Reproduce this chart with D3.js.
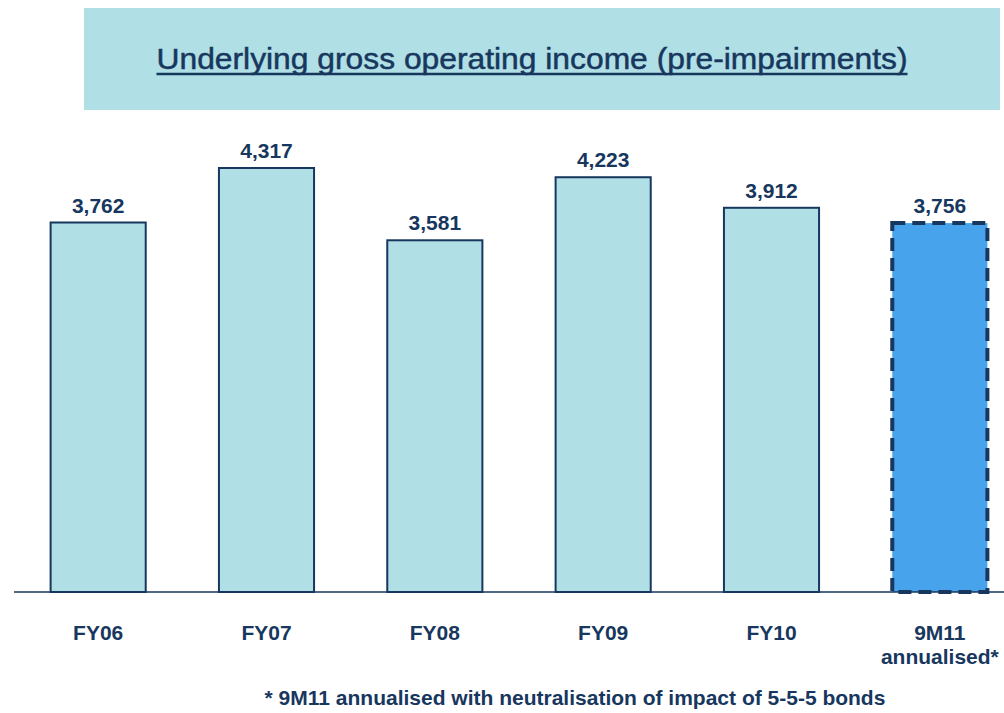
<!DOCTYPE html>
<html>
<head>
<meta charset="utf-8">
<script src="https://cdn.jsdelivr.net/npm/d3@7"></script>
<style>
  body { margin: 0; background: #fff; }
  text { font-family: "Liberation Sans", Arial, sans-serif; }
</style>
</head>
<body>
<script>
// chart data
var categories = ["FY06", "FY07", "FY08", "FY09", "FY10", "9M11"];
var subLabels = ["", "", "", "", "", "annualised*"];
var values = [3762, 4317, 3581, 4223, 3912, 3756];
var valueLabels = ["3,762", "4,317", "3,581", "4,223", "3,912", "3,756"];
var titleText = "Underlying gross operating income (pre-impairments)";
var footnote = "* 9M11 annualised with neutralisation of impact of 5-5-5 bonds";

var width = 1004, height = 713;
var navy = "#17375e";

var svg = d3.select("body").append("svg")
    .attr("width", width)
    .attr("height", height);

// title box
svg.append("rect")
    .attr("x", 84).attr("y", 8)
    .attr("width", 916).attr("height", 102)
    .style("fill", "#b0dfe5");

var title = svg.append("text")
    .attr("x", 532).attr("y", 69)
    .attr("text-anchor", "middle")
    .attr("textLength", 751)
    .attr("lengthAdjust", "spacingAndGlyphs")
    .style("font-size", "30px")
    .style("fill", navy)
    .style("stroke", navy)
    .style("stroke-width", 0.5)
    .text(titleText);

// underline
var bb = title.node().getBBox();
svg.append("line")
    .attr("x1", bb.x).attr("x2", bb.x + bb.width)
    .attr("y1", 74).attr("y2", 74)
    .style("stroke", navy)
    .style("stroke-width", 2.5);

// scales
var x = d3.scaleBand()
    .domain(categories)
    .range([14, 1024])
    .paddingInner(0.435)
    .paddingOuter(0.2175);

var y = d3.scaleLinear()
    .domain([0, 4317])
    .range([592, 168]);

var data = categories.map((c, i) => ({cat: c, sub: subLabels[i], value: values[i], label: valueLabels[i]}));

// bars
svg.selectAll(".bar")
    .data(data)
    .enter().append("rect")
    .attr("class", "bar")
    .attr("x", d => x(d.cat))
    .attr("y", d => y(d.value))
    .attr("width", x.bandwidth())
    .attr("height", d => y(0) - y(d.value))
    .style("fill", (d, i) => i == 5 ? "#46a3ec" : "#b0dfe5")
    .style("stroke", navy)
    .style("stroke-width", (d, i) => i == 5 ? 4 : 2)
    .style("stroke-dasharray", (d, i) => i == 5 ? "13,7" : null);

// baseline
svg.append("line")
    .attr("x1", 14).attr("x2", 1004)
    .attr("y1", y(0)).attr("y2", y(0))
    .style("stroke", navy)
    .style("stroke-width", 1.5);

// value labels
svg.selectAll(".val")
    .data(data)
    .enter().append("text")
    .attr("class", "val")
    .attr("x", d => x(d.cat) + x.bandwidth() / 2)
    .attr("y", d => y(d.value) - 10)
    .attr("text-anchor", "middle")
    .style("font-size", "21px")
    .style("font-weight", "bold")
    .style("fill", navy)
    .text(d => d.label);

// category labels
svg.selectAll(".cat")
    .data(data)
    .enter().append("text")
    .attr("class", "cat")
    .attr("x", d => x(d.cat) + x.bandwidth() / 2)
    .attr("y", 640)
    .attr("text-anchor", "middle")
    .style("font-size", "21px")
    .style("font-weight", "bold")
    .style("fill", navy)
    .text(d => d.cat);

svg.selectAll(".sub")
    .data(data.filter(d => d.sub))
    .enter().append("text")
    .attr("class", "sub")
    .attr("x", d => x(d.cat) + x.bandwidth() / 2)
    .attr("y", 664)
    .attr("text-anchor", "middle")
    .style("font-size", "21px")
    .style("font-weight", "bold")
    .style("fill", navy)
    .text(d => d.sub);

// footnote
svg.append("text")
    .attr("x", 575).attr("y", 705)
    .attr("text-anchor", "middle")
    .style("font-size", "21px")
    .style("font-weight", "bold")
    .style("fill", navy)
    .text(footnote);
</script>
</body>
</html>
